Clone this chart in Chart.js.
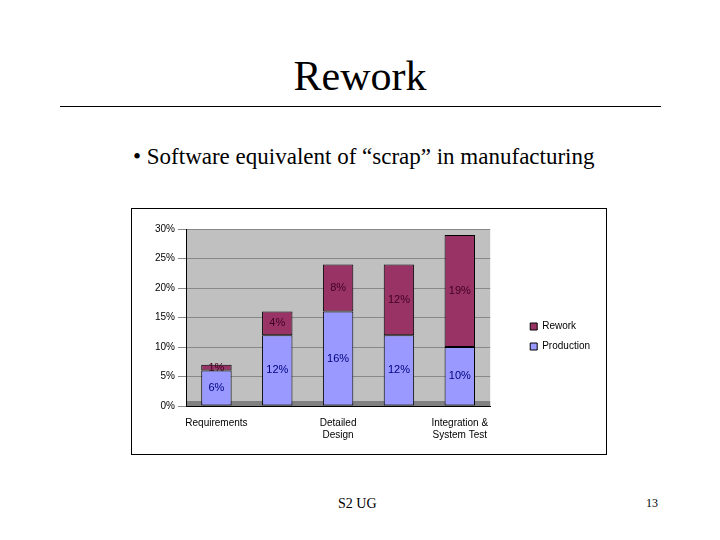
<!DOCTYPE html>
<html>
<head>
<meta charset="utf-8">
<script src="https://cdn.jsdelivr.net/npm/chart.js@4"></script>
<style>
  body { margin: 0; width: 720px; height: 540px; background: #fff; position: relative; font-family: 'Liberation Serif', serif; }
  .title { position: absolute; top: 52px; width: 720px; text-align: center; font-size: 42px; }
  .rule { position: absolute; top: 106px; left: 60px; width: 601px; border-top: 1px solid #000; }
  .bullet { position: absolute; top: 144px; left: 133px; font-size: 23px; }
  .box { position: absolute; left: 131px; top: 208px; width: 474px; height: 245px; border: 1px solid #000; }
  .foot { position: absolute; top: 496px; left: 338px; font-size: 14px; }
  .num { position: absolute; top: 496px; left: 646px; font-size: 12px; }
</style>
</head>
<body>
<div class="title">Rework</div>
<div class="rule"></div>
<div class="bullet">• Software equivalent of “scrap” in manufacturing</div>
<div class="box"><canvas id="c" width="474" height="245"></canvas></div>
<div class="foot">S2 UG</div>
<div class="num">13</div>
<script>
const categories = ['Requirements', '', ['Detailed', 'Design'], '', ['Integration &', 'System Test']];
const production = [6, 12, 16, 12, 10];
const rework = [1, 4, 8, 12, 19];
const yTicks = [0, 5, 10, 15, 20, 25, 30];

const plotBg = {
  id: 'plotBg',
  beforeDraw(chart) {
    const { ctx, chartArea: a } = chart;
    ctx.save();
    ctx.fillStyle = '#c0c0c0';
    ctx.fillRect(a.left, a.top, a.right - a.left, a.bottom - a.top);
    ctx.fillStyle = '#808080';
    ctx.fillRect(a.left, a.bottom - 5, a.right - a.left, 5);
    ctx.restore();
  }
};

// push legend further right of the plot, like the original
const legendGap = {
  id: 'legendGap',
  afterLayout(chart) {
    const gap = 30;
    chart.chartArea.right -= gap;
    chart.scales.x.right -= gap;
    chart.scales.x.width -= gap;
    chart.scales.x.configure();
  }
};

const valueLabels = {
  id: 'valueLabels',
  afterDatasetsDraw(chart) {
    const { ctx } = chart;
    ctx.save();
    ctx.font = '11px Arial, "Liberation Sans", sans-serif';
    ctx.textAlign = 'center';
    ctx.textBaseline = 'middle';
    chart.data.datasets.forEach((ds, i) => {
      chart.getDatasetMeta(i).data.forEach((bar, j) => {
        const mid = (bar.y + bar.base) / 2;
        ctx.fillStyle = i === 0 ? '#000080' : '#400020';
        ctx.fillText(ds.data[j] + '%', bar.x, mid);
      });
    });
    ctx.restore();
  }
};

new Chart(document.getElementById('c'), {
  type: 'bar',
  data: {
    labels: categories,
    datasets: [{
      label: 'Production',
      data: production,
      backgroundColor: '#9999ff',
      borderColor: '#000',
      borderWidth: 1,
      borderSkipped: false,
      barPercentage: 0.5,
      categoryPercentage: 1
    }, {
      label: 'Rework',
      data: rework,
      backgroundColor: '#993366',
      borderColor: '#000',
      borderWidth: 1,
      borderSkipped: false,
      barPercentage: 0.5,
      categoryPercentage: 1
    }]
  },
  options: {
    responsive: false,
    animation: false,
    layout: { padding: { top: 20, right: 6, left: 20, bottom: 10 } },
    plugins: {
      legend: {
        position: 'right',
        reverse: true,
        labels: { boxWidth: 7, boxHeight: 7, color: '#000', font: { size: 10, family: 'Arial, "Liberation Sans", sans-serif' } }
      },
      tooltip: { enabled: false }
    },
    scales: {
      x: {
        stacked: true,
        grid: { display: false },
        border: { color: '#000' },
        ticks: { color: '#000', maxRotation: 0, autoSkip: false, font: { size: 10, family: 'Arial, "Liberation Sans", sans-serif' } }
      },
      y: {
        stacked: true,
        min: 0,
        max: 30,
        afterBuildTicks: axis => { axis.ticks = yTicks.map(v => ({ value: v })); },
        grid: { color: '#888' },
        border: { color: '#000' },
        ticks: { color: '#000', callback: v => v + '%', font: { size: 10, family: 'Arial, "Liberation Sans", sans-serif' } }
      }
    }
  },
  plugins: [plotBg, legendGap, valueLabels]
});
</script>
</body>
</html>
